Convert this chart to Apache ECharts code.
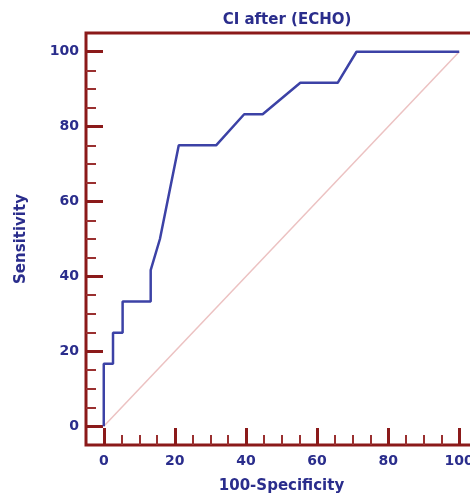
<!doctype html>
<html>
    <head>
        <meta charset="utf-8">
        <style>
            html, body { margin: 0; padding: 0; background: #fff; }
            #main { width: 470px; height: 499px; }
        </style>
    </head>
    <body>
        <div id="main"></div>
        <script src="https://cdn.jsdelivr.net/npm/echarts@6/dist/echarts.min.js"></script>
        <script>
            var chart = echarts.init(document.getElementById('main'));

            // ROC curve: [100-Specificity, Sensitivity]
            var rocPoints = [
                [0, 0], [0, 16.7], [2.6, 16.7], [2.6, 25], [5.3, 25], [5.3, 33.3],
                [13.2, 33.3], [13.2, 41.7], [15.8, 50], [21.1, 75], [31.6, 75],
                [39.5, 83.3], [44.7, 83.3], [55.3, 91.7], [65.8, 91.7], [71.1, 100],
                [100, 100]
            ];
            var diagonal = [[0, 0], [100, 100]];
            var majorTicks = [0, 20, 40, 60, 80, 100];
            var minorTicks = [5, 10, 15, 25, 30, 35, 45, 50, 55, 65, 70, 75, 85, 90, 95];

            var FRAME = '#8b1a1a';
            var TEXT = '#2a2d8c';
            var FONT = 'DejaVu Sans';

            function axisPair(dim) {
                var base = {
                    type: 'value',
                    min: -5,
                    max: 105,
                    position: dim === 'x' ? 'bottom' : 'left',
                    splitLine: { show: false },
                    axisLine: { show: false, onZero: false }
                };
                var major = Object.assign({}, base, {
                    axisTick: {
                        inside: true,
                        length: 17,
                        customValues: majorTicks,
                        lineStyle: { color: FRAME, width: 3 }
                    },
                    axisLabel: {
                        customValues: majorTicks,
                        color: TEXT,
                        fontFamily: FONT,
                        fontWeight: 'bold',
                        fontSize: 14,
                        margin: dim === 'x' ? 9 : 7
                    },
                    nameLocation: 'middle',
                    nameTextStyle: {
                        color: TEXT,
                        fontFamily: FONT,
                        fontWeight: 'bold',
                        fontSize: 15
                    }
                });
                if (dim === 'x') {
                    major.name = '100-Specificity';
                    major.nameGap = 34;
                } else {
                    major.name = 'Sensitivity';
                    major.nameGap = 57;
                }
                var minor = Object.assign({}, base, {
                    axisTick: {
                        inside: true,
                        length: 10,
                        customValues: minorTicks,
                        lineStyle: { color: '#9a3030', width: 2 }
                    },
                    axisLabel: { show: false }
                });
                return [major, minor];
            }

            chart.setOption({
                animation: false,
                backgroundColor: '#fff',
                title: {
                    text: 'CI after (ECHO)',
                    left: 282,
                    top: 8,
                    textAlign: 'center',
                    textStyle: {
                        color: TEXT,
                        fontFamily: FONT,
                        fontWeight: 'bold',
                        fontSize: 15
                    }
                },
                grid: {
                    left: 86,
                    top: 33,
                    width: 391,
                    height: 412,
                    outerBoundsMode: 'none',
                    show: true,
                    borderColor: FRAME,
                    borderWidth: 3
                },
                xAxis: axisPair('x'),
                yAxis: axisPair('y'),
                series: [
                    {
                        type: 'line',
                        data: diagonal,
                        symbol: 'none',
                        silent: true,
                        lineStyle: { color: '#ecc2c2', width: 1.5 }
                    },
                    {
                        type: 'line',
                        data: rocPoints,
                        symbol: 'none',
                        silent: true,
                        lineStyle: { color: '#3c42a6', width: 2.5 }
                    }
                ]
            });

            window.addEventListener('resize', function () {
                chart.resize();
            });
        </script>
    </body>
</html>
